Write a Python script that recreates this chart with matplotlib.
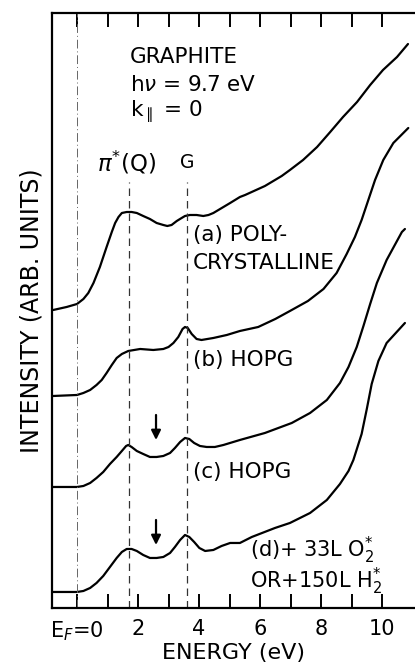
import matplotlib
matplotlib.use("Agg")
import matplotlib.pyplot as plt

plt.rcParams['font.family'] = ['DejaVu Sans']
plt.rcParams['mathtext.fontset'] = 'dejavusans'

# spectra (energy in eV, intensity in arb. units)
e_a = [-0.78, -0.34, 0, 0.21, 0.37, 0.54, 0.75, 0.97, 1.14, 1.25, 1.36, 1.47, 1.63, 1.79,
       1.96, 2.17, 2.39, 2.61, 2.83, 2.96, 3.10, 3.27, 3.43, 3.54, 3.70, 3.92, 4.14,
       4.31, 4.47, 4.69, 5.02, 5.34, 5.51, 6.16, 6.71, 6.98, 7.41, 7.87, 8.30, 8.72,
       9.18, 9.61, 10.03, 10.49, 10.85]
i_a = [298, 301, 304, 309, 315, 325, 341, 361, 376, 385, 391, 395, 396, 396,
       395, 392, 389, 385, 383, 382, 383, 387, 390, 392, 393, 393, 392,
       393, 395, 399, 405, 411, 413, 422, 432, 438, 448, 461, 476, 491,
       506, 523, 538, 551, 564]

e_b = [-0.78, 0, 0.21, 0.43, 0.64, 0.81, 0.97, 1.14, 1.30, 1.47, 1.68, 2.07, 2.50, 2.83,
       3.00, 3.16, 3.32, 3.46, 3.54, 3.63, 3.76, 3.92, 4.08, 4.47, 4.91, 5.34, 5.94,
       6.50, 6.98, 7.57, 8.08, 8.51, 8.84, 9.11, 9.33, 9.55, 9.77, 10.04, 10.37, 10.86]
i_b = [212, 213, 215, 218, 223, 228, 235, 243, 250, 254, 257, 259, 258, 259,
       261, 265, 271, 279, 281, 280, 274, 269, 268, 270, 273, 277, 281,
       289, 297, 307, 319, 335, 354, 371, 388, 408, 428, 448, 465, 480]

e_c = [-0.78, 0, 0.21, 0.43, 0.64, 0.86, 1.08, 1.30, 1.47, 1.61, 1.68, 1.79, 1.96, 2.17,
       2.39, 2.61, 2.83, 3.05, 3.21, 3.38, 3.54, 3.68, 3.84, 4.03, 4.25, 4.52, 4.80,
       5.34, 6.16, 7.04, 7.64, 8.19, 8.62, 8.90, 9.17, 9.39, 9.61, 9.83, 10.15,
       10.65, 10.75]
i_c = [121, 121, 122, 125, 130, 136, 144, 151, 157, 162, 163, 161, 157, 154,
       151, 151, 152, 155, 160, 166, 170, 169, 165, 162, 161, 161, 163,
       168, 175, 185, 195, 208, 225, 241, 261, 282, 304, 325, 348,
       376, 379]

e_d = [-0.78, 0, 0.21, 0.43, 0.64, 0.86, 1.08, 1.30, 1.47, 1.63, 1.79, 1.96, 2.17, 2.39,
       2.61, 2.83, 3.05, 3.21, 3.38, 3.54, 3.68, 3.84, 4.01, 4.20, 4.47, 4.74, 5.02,
       5.34, 5.73, 6.49, 6.98, 7.64, 8.19, 8.62, 8.90, 9.06, 9.33, 9.50, 9.66, 9.88,
       10.15, 10.75]
i_d = [16, 16, 17, 20, 25, 32, 41, 50, 56, 59, 59, 57, 53, 50,
       50, 51, 55, 61, 68, 73, 71, 66, 60, 57, 58, 62, 65,
       65, 71, 80, 85, 95, 108, 124, 137, 148, 174, 199, 224, 247,
       265, 285]

# feature markers
e_pi, e_g = 1.70, 3.61
e_arrow = 2.59
arrow_c = (193, 168)
arrow_d = (88, 63)

fig = plt.figure(figsize=(4.15, 6.67), dpi=100)
ax = fig.add_axes([0.1253, 0.0885, 0.8747, 0.892])

for e, i in [(e_a, i_a), (e_b, i_b), (e_c, i_c), (e_d, i_d)]:
    ax.plot(e, i, color='black', lw=1.6, solid_joinstyle='round', solid_capstyle='round')

# Fermi level and feature lines
ax.axvline(0, color='0.4', lw=0.7, ls=(0, (9, 3, 1, 3)))
for x in (e_pi, e_g):
    ax.plot([x, x], [0, 426], color='0.2', lw=0.9, ls=(0, (6, 4)))

for top, bot in (arrow_c, arrow_d):
    ax.annotate('', xy=(e_arrow, bot), xytext=(e_arrow, top),
                arrowprops=dict(arrowstyle='-|>', color='black', lw=1.6,
                                mutation_scale=14, shrinkA=0, shrinkB=0))

fs = 15.5
ax.text(1.74, 551, 'GRAPHITE', fontsize=fs, va='center')
ax.text(1.74, 523, r'h$\nu$ = 9.7 eV', fontsize=fs, va='center')
ax.text(1.74, 496, r'k$_{\parallel}$ = 0', fontsize=fs, va='center')
ax.text(0.66, 445, r'$\pi^{*}$(Q)', fontsize=16.5, va='center')
ax.text(e_g, 445, 'G', fontsize=fs - 2, va='center', ha='center')
ax.text(3.80, 373, '(a) POLY-', fontsize=fs, va='center')
ax.text(3.80, 345, 'CRYSTALLINE', fontsize=fs, va='center')
ax.text(3.80, 248, '(b) HOPG', fontsize=fs, va='center')
ax.text(3.80, 136, '(c) HOPG', fontsize=fs, va='center')
ax.text(5.67, 58, r'(d)+ 33L O$_2^{*}$', fontsize=15, va='center')
ax.text(5.67, 27, r'OR+150L H$_2^{*}$', fontsize=15, va='center')

ax.set_xlim(-0.82, 11.08)
ax.set_ylim(0, 595)
ax.set_xticks([0, 2, 4, 6, 8, 10])
ax.set_xticklabels([r'E$_F$=0', '2', '4', '6', '8', '10'])
ax.set_xticks([1, 3, 5, 7, 9], minor=True)
ax.tick_params(axis='x', which='both', direction='in', top=True, length=10,
               width=1.4, labelsize=15, pad=8)
ax.set_yticks([])
ax.spines['right'].set_visible(False)
for s in ('left', 'top', 'bottom'):
    ax.spines[s].set_linewidth(1.6)

ax.set_xlabel('ENERGY (eV)', fontsize=16, labelpad=0)
ax.set_ylabel('INTENSITY (ARB. UNITS)', fontsize=17, labelpad=6)

fig.savefig('out.png', dpi=100)
